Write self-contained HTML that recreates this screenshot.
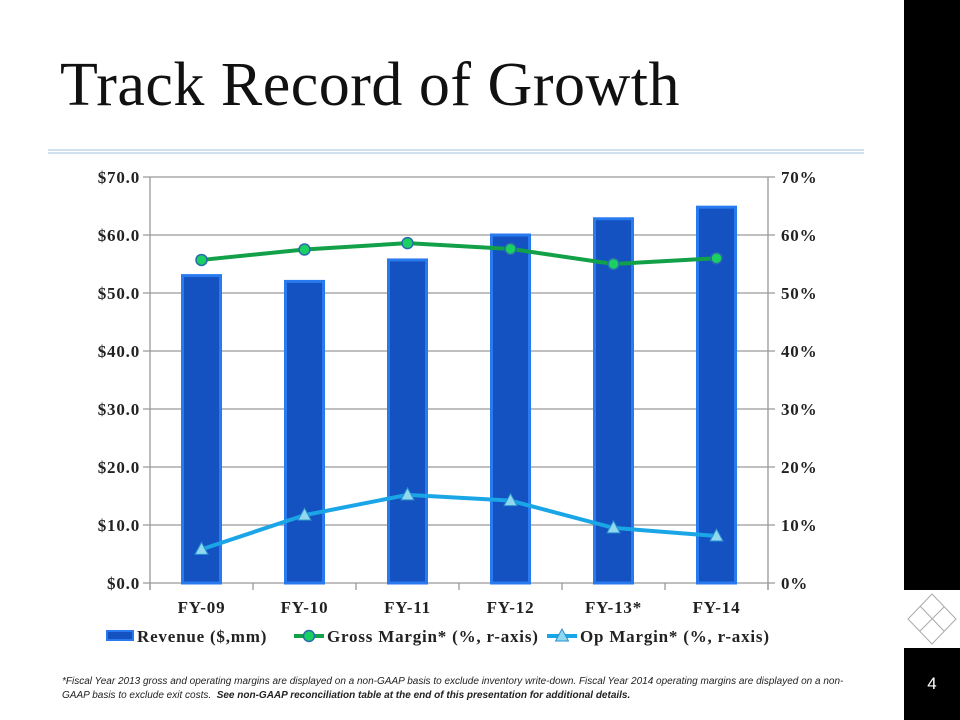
<!DOCTYPE html>
<html><head><meta charset="utf-8"><style>
body{margin:0;width:960px;height:720px;background:#fff;position:relative;overflow:hidden;font-family:"Liberation Serif",serif}
#title{position:absolute;left:60px;top:50px;font-size:62px;color:#111;white-space:nowrap;letter-spacing:0.5px}
#note{position:absolute;left:62px;top:675px;width:790px;font-family:"Liberation Sans",sans-serif;font-style:italic;font-size:10px;line-height:14px;color:#222}
</style></head><body>
<div id="title">Track Record of Growth</div>
<div style="position:absolute;left:904px;top:0;width:56px;height:590px;background:#000"></div>
<div style="position:absolute;left:904px;top:648px;width:56px;height:72px;background:#000"></div>
<div style="position:absolute;left:904px;top:674px;width:56px;text-align:center;color:#fff;font-family:'Liberation Sans',sans-serif;font-size:17px">4</div>
<svg style="position:absolute;left:900px;top:590px" width="60" height="58">
<g fill="none" stroke="#aaa" stroke-width="1"><path d="M32 4 L56 29 L32 54 L8 29 Z"/><path d="M20 16 L44 41 M44 17 L20 41 M32 29 L44 17"/></g></svg>
<div id="note">*Fiscal Year 2013 gross and operating margins are displayed on a non-GAAP basis to exclude inventory write-down. Fiscal Year 2014 operating margins are displayed on a non-GAAP basis to exclude exit costs. &nbsp;<b>See non-GAAP reconciliation table at the end of this presentation for additional details.</b></div>
<svg id="chart" width="960" height="720" style="position:absolute;left:0;top:0"></svg>
<script>
const categories=["FY-09","FY-10","FY-11","FY-12","FY-13*","FY-14"];
const revenue=[53,52,55.7,60,62.8,64.8];
const grossMargin=[55.7,57.5,58.6,57.6,55,56];
const opMargin=[5.8,11.7,15.2,14.2,9.5,8.1];
const leftTicks=["$0.0","$10.0","$20.0","$30.0","$40.0","$50.0","$60.0","$70.0"];
const rightTicks=["0%","10%","20%","30%","40%","50%","60%","70%"];
const NS="http://www.w3.org/2000/svg",svg=document.getElementById('chart');
const X0=150,X1=768,Y0=583,Y1=177;
const yL=v=>Y0-(v/70)*(Y0-Y1), yR=v=>Y0-(v/70)*(Y0-Y1);
const bw=(X1-X0)/categories.length, xc=i=>X0+bw*(i+0.5);
function el(t,a,p){const e=document.createElementNS(NS,t);for(const k in a)e.setAttribute(k,a[k]);(p||svg).appendChild(e);return e;}
el('line',{x1:48,x2:864,y1:150,y2:150,stroke:'#9cc3d8','stroke-width':1});
el('line',{x1:48,x2:864,y1:153,y2:153,stroke:'#9cc3d8','stroke-width':1});
const F='font-family:"Liberation Serif",serif;font-weight:bold;font-size:17px;letter-spacing:0.8px;fill:#222';
leftTicks.forEach((t,i)=>{const y=yL(i*10);
 const g=el('line',{x1:X0-7,x2:X1+7,y1:y,y2:y,stroke:'#999','stroke-width':1.3});
 
 const a=el('text',{x:X0-10,y:y+6,'text-anchor':'end',style:F});a.textContent=t;
 
 const b=el('text',{x:X1+13,y:y+6,style:F});b.textContent=rightTicks[i];
 
});
el('line',{x1:X0,x2:X0,y1:Y1,y2:Y0+7,stroke:'#999','stroke-width':1.3});
el('line',{x1:X1,x2:X1,y1:Y1,y2:Y0+7,stroke:'#999','stroke-width':1.3});
for(let i=0;i<=categories.length;i++)el('line',{x1:X0+bw*i,x2:X0+bw*i,y1:Y0,y2:Y0+7,stroke:'#999','stroke-width':1.3});
categories.forEach((c,i)=>{
 const r=el('rect',{x:xc(i)-19,y:yL(revenue[i]),width:38,height:Y0-yL(revenue[i]),fill:'#1352c0',stroke:'#2a7aef','stroke-width':3});
 
 const t=el('text',{x:xc(i),y:Y0+30,'text-anchor':'middle',style:F});t.textContent=c;
 
});
const gl=el('polyline',{points:grossMargin.map((v,i)=>xc(i)+','+yR(v)).join(' '),fill:'none',stroke:'#12a048','stroke-width':4});

grossMargin.forEach((v,i)=>{const c=el('circle',{cx:xc(i),cy:yR(v),r:5.5,fill:'#19d060',stroke:'#2a6ab0','stroke-width':1.5});
 });
const ol=el('polyline',{points:opMargin.map((v,i)=>xc(i)+','+yR(v)).join(' '),fill:'none',stroke:'#1aa6e6','stroke-width':4});

opMargin.forEach((v,i)=>{const x=xc(i),y=yR(v);const p=el('polygon',{points:`${x},${y-7} ${x+6.5},${y+5} ${x-6.5},${y+5}`,fill:'#8fd8f0',stroke:'#2a8fcf','stroke-width':1});
 });
const LY=636;
let g=el('g',{});
el('rect',{x:107,y:LY-5,width:26,height:9,fill:'#1352c0',stroke:'#2a7aef','stroke-width':2},g);
let t=el('text',{x:137,y:LY+6,style:F},g);t.textContent='Revenue ($,mm)';
g=el('g',{});
el('line',{x1:294,x2:324,y1:LY,y2:LY,stroke:'#12a048','stroke-width':4},g);
el('circle',{cx:309,cy:LY,r:5.5,fill:'#19d060',stroke:'#2a6ab0','stroke-width':1.5},g);
t=el('text',{x:327,y:LY+6,style:F},g);t.textContent='Gross Margin* (%, r-axis)';
g=el('g',{});
el('line',{x1:547,x2:577,y1:LY,y2:LY,stroke:'#1aa6e6','stroke-width':4},g);
el('polygon',{points:`562,${LY-7} 568.5,${LY+5} 555.5,${LY+5}`,fill:'#8fd8f0',stroke:'#2a8fcf'},g);
t=el('text',{x:580,y:LY+6,style:F},g);t.textContent='Op Margin* (%, r-axis)';
</script>
</body></html>
